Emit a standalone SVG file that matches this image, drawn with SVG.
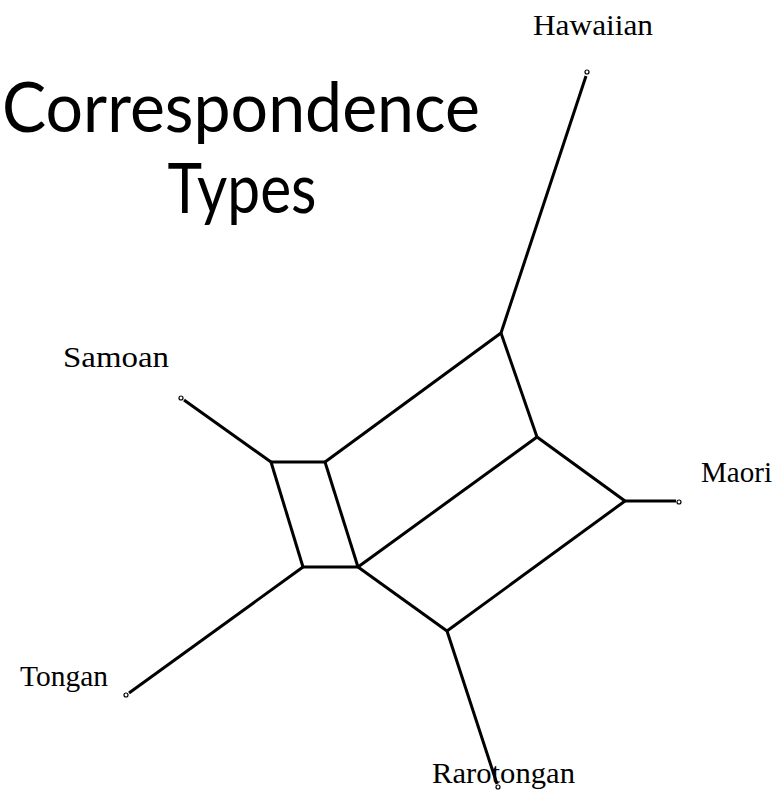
<svg xmlns="http://www.w3.org/2000/svg" width="783" height="792" viewBox="0 0 783 792">
<style>
.e{stroke:#000;stroke-width:3;fill:none;stroke-linecap:butt}
.tip{fill:#fff;stroke:#000;stroke-width:1.2}
.lbl{font-family:"Liberation Serif","Times New Roman",serif;font-size:30px;fill:#000}
.title{font-family:Lato,"Open Sans",sans-serif;font-size:70px;fill:#000;text-anchor:middle}
</style>
<rect width="783" height="792" fill="#fff"/>
<g id="title">
<text class="title" x="241" y="132" textLength="478" lengthAdjust="spacingAndGlyphs">Correspondence</text>
<text class="title" x="242" y="213" textLength="149" lengthAdjust="spacingAndGlyphs">Types</text>
</g>
<g id="connectors">
<line class="e" x1="586" y1="76" x2="501" y2="333"/>
<line class="e" x1="501" y1="333" x2="537" y2="437"/>
<line class="e" x1="501" y1="333" x2="325" y2="462"/>
<line class="e" x1="537" y1="437" x2="625" y2="501"/>
<line class="e" x1="537" y1="437" x2="358" y2="567"/>
<line class="e" x1="625" y1="501" x2="676" y2="501"/>
<line class="e" x1="625" y1="501" x2="447" y2="631"/>
<line class="e" x1="184" y1="400" x2="271" y2="462"/>
<line class="e" x1="271" y1="462" x2="325" y2="462"/>
<line class="e" x1="271" y1="462" x2="303" y2="567"/>
<line class="e" x1="325" y1="462" x2="358" y2="567"/>
<line class="e" x1="303" y1="567" x2="358" y2="567"/>
<line class="e" x1="303" y1="567" x2="129" y2="693"/>
<line class="e" x1="358" y1="567" x2="447" y2="631"/>
<line class="e" x1="447" y1="631" x2="497" y2="784"/>
</g>
<g id="Hawaiian">
<circle class="tip" cx="587" cy="72" r="2"/>
<text class="lbl" x="533" y="35" textLength="120" lengthAdjust="spacingAndGlyphs">Hawaiian</text>
</g>
<g id="Samoan">
<circle class="tip" cx="181" cy="398" r="2"/>
<text class="lbl" x="63" y="367" textLength="106" lengthAdjust="spacingAndGlyphs">Samoan</text>
</g>
<g id="Maori">
<circle class="tip" cx="679" cy="502" r="2"/>
<text class="lbl" x="701" y="482" textLength="71" lengthAdjust="spacingAndGlyphs">Maori</text>
</g>
<g id="Tongan">
<circle class="tip" cx="126" cy="695" r="2"/>
<text class="lbl" x="20" y="686" textLength="88" lengthAdjust="spacingAndGlyphs">Tongan</text>
</g>
<g id="Rarotongan">
<text class="lbl" x="432" y="783" textLength="143" lengthAdjust="spacingAndGlyphs">Rarotongan</text>
<circle class="tip" cx="498" cy="787" r="2"/>
</g>
</svg>
